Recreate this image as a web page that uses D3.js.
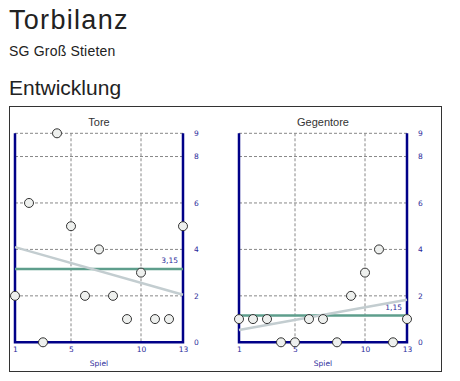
<!DOCTYPE html>
<html><head><meta charset="utf-8">
<script src="https://cdn.jsdelivr.net/npm/d3@7"></script>
<style>
body{margin:0;background:#fff;font-family:"Liberation Sans",Arial,sans-serif;}
svg{display:block;}
</style></head>
<body><svg id="c" width="460" height="381"></svg>
<script>
const games = [1,2,3,4,5,6,7,8,9,10,11,12,13];
const tore = [2,6,0,9,5,2,4,2,1,3,1,1,5];
const gegentore = [1,1,1,0,0,1,1,0,2,3,4,0,1];
const toreTrend = [4.1, 2.05];
const gegenTrend = [0.53, 1.83];
const yTickValues = [0,2,4,6,8,9];
const yGridValues = [2,4,6,8,9];
const xTickValues = [1,5,10,13];
const xGridValues = [5,10];
const panelTitles = ["Tore","Gegentore"];

const svg = d3.select("#c");
svg.append("text").attr("x",9).attr("y",29).attr("font-size",27).attr("letter-spacing",1.3).attr("fill","#222").text("Torbilanz");
svg.append("text").attr("x",9).attr("y",56).attr("font-size",14).attr("letter-spacing",0.2).attr("fill","#222").text("SG Groß Stieten");
svg.append("text").attr("x",9).attr("y",95).attr("font-size",21).attr("fill","#222").text("Entwicklung");
svg.append("rect").attr("x",9.5).attr("y",106.5).attr("width",432).attr("height",265).attr("fill","none").attr("stroke","#333").attr("stroke-width",1);

function panel(left, title, values, trend){
  const right = left + 168, top = 133.3, bottom = 342.3;
  const x = d3.scaleLinear().domain([1,13]).range([left,right]);
  const y = d3.scaleLinear().domain([0,9]).range([bottom,top]);
  const g = svg.append("g");
  g.append("text").attr("x",(left+right)/2).attr("y",126).attr("text-anchor","middle")
    .attr("font-size",11).attr("fill","#333").text(title);
  g.selectAll(".hg").data(yGridValues).join("line")
    .attr("x1",left).attr("x2",right).attr("y1",d=>y(d)).attr("y2",d=>y(d))
    .attr("stroke","#888").attr("stroke-dasharray","3,2");
  g.selectAll(".vg").data(xGridValues).join("line")
    .attr("x1",d=>x(d)).attr("x2",d=>x(d)).attr("y1",top).attr("y2",bottom)
    .attr("stroke","#888").attr("stroke-dasharray","3,2");
  const axisColor="#000088";
  g.append("path").attr("d",`M${left},${top}V${bottom}H${right}V${top}`)
    .attr("fill","none").attr("stroke",axisColor).attr("stroke-width",2.5);
  const ya = g.append("g").attr("transform",`translate(${right},0)`)
    .call(d3.axisRight(y).tickValues(yTickValues).tickSize(0).tickPadding(11).tickFormat(d3.format("d")));
  const xa = g.append("g").attr("transform",`translate(0,${bottom})`)
    .call(d3.axisBottom(x).tickValues(xTickValues).tickSize(0).tickPadding(4).tickFormat(d3.format("d")));
  [ya,xa].forEach(a=>{a.select(".domain").remove();
    a.selectAll("text").attr("fill","#2a2a9a").attr("font-size",7.5).attr("font-family","'DejaVu Sans',Verdana,sans-serif");});
  g.append("text").attr("x",(left+right)/2).attr("y",366).attr("text-anchor","middle")
    .attr("font-size",7.5).attr("font-family","'DejaVu Sans',Verdana,sans-serif").attr("fill","#2a2a9a").text("Spiel");
  const mean = d3.mean(values);
  g.append("line").attr("x1",left).attr("x2",right).attr("y1",y(mean)).attr("y2",y(mean))
    .attr("stroke","#5e9e8c").attr("stroke-width",2.5);
  g.append("text").attr("x",right-5).attr("y",y(mean)-6).attr("text-anchor","end")
    .attr("font-size",7.5).attr("font-family","'DejaVu Sans',Verdana,sans-serif").attr("fill","#2a2a9a")
    .text(mean.toFixed(2).replace(".",","));
  g.append("line").attr("x1",x(1)).attr("x2",x(13)).attr("y1",y(trend[0])).attr("y2",y(trend[1]))
    .attr("stroke","#c3cdd0").attr("stroke-width",2.5);
  g.selectAll("circle").data(values).join("circle")
    .attr("cx",(d,i)=>x(games[i])).attr("cy",d=>y(d)).attr("r",4.5)
    .attr("fill","#eef0ee").attr("stroke","#333").attr("stroke-width",1);
}
panel(15, panelTitles[0], tore, toreTrend);
panel(239, panelTitles[1], gegentore, gegenTrend);
</script></body></html>
